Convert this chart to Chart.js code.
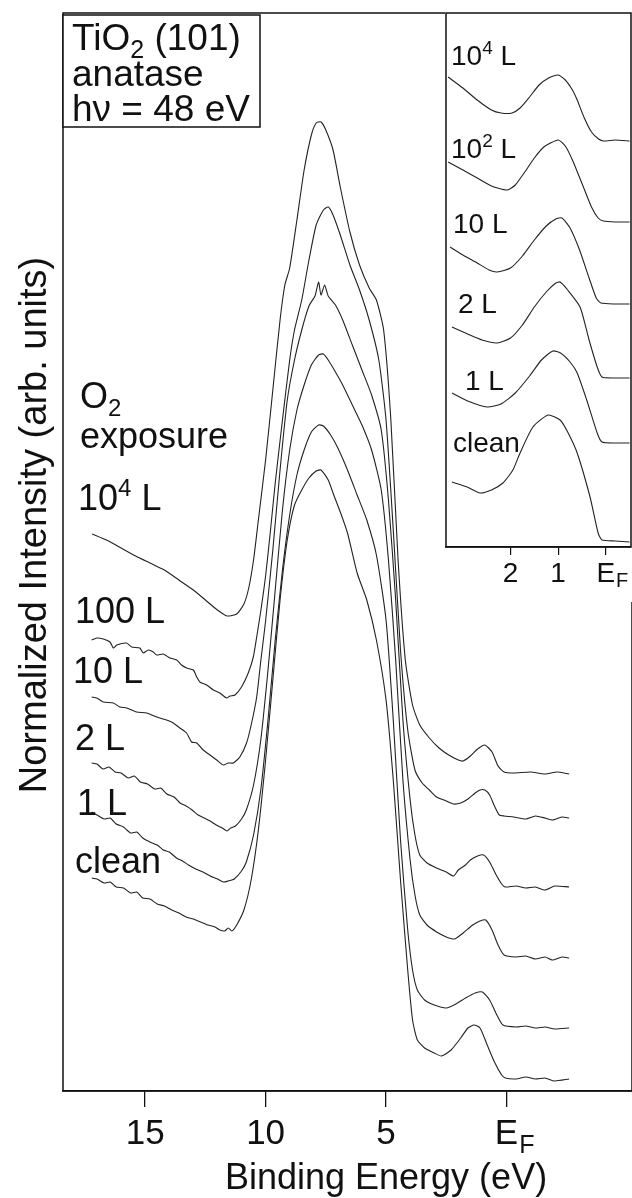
<!DOCTYPE html>
<html>
<head>
<meta charset="utf-8">
<script src="https://cdn.jsdelivr.net/npm/chart.js@4.4.1/dist/chart.umd.min.js"></script>
<style>
  html, body { margin: 0; padding: 0; background: #fff; }
  #wrap { position: relative; width: 632px; height: 1198px; overflow: hidden; }
  #main { position: absolute; left: 0; top: 0; }
  #inset { position: absolute; left: 445px; top: 12px; }
</style>
</head>
<body>
<div id="wrap">
  <canvas id="main" width="632" height="1198"></canvas>
  <canvas id="inset" width="187" height="590"></canvas>
</div>
<script>
// ---- data: [binding energy (eV), normalized intensity (arb. units)] ----
var mainTicks = [15, 10, 5, 0];
var mainTickText = ['15', '10', '5', 'E'];
var insetTicks = [2, 1, 0];
var insetTickText = ['2', '1', 'E'];

var main1e4 = [[17.2,557],[16.6,551],[16.0,543],[15.4,535],[14.8,528],[14.2,521],[13.6,511],[13.0,501],[12.5,491],[12.0,481],[11.6,475],[11.2,477],[10.9,487],[10.7,503],[10.5,531],[10.3,571],[10.0,631],[9.7,701],[9.4,771],[9.2,806],[9.0,823],[8.7,871],[8.4,921],[8.1,956],[7.9,968],[7.7,969],[7.5,961],[7.2,941],[6.9,904],[6.5,859],[6.1,826],[5.7,803],[5.4,791],[5.1,761],[4.8,671],[4.5,531],[4.2,431],[3.9,386],[3.6,366],[3.2,353],[2.8,343],[2.4,336],[2.0,331],[1.8,330],[1.5,335],[1.2,342],[0.9,346],[0.6,339],[0.35,325],[0.1,319],[-0.3,318],[-1.0,319],[-1.6,317],[-2.1,319],[-2.6,317]];
var main100 = [[17.22,451],[17.01,453],[16.74,452],[16.46,449],[16.32,443],[16.18,446],[15.77,448],[15.56,444],[15.22,443],[15.08,438],[14.87,441],[14.66,439],[14.52,436],[14.25,437],[13.97,433],[13.69,431],[13.49,426],[13.28,423],[13.0,421],[12.86,414],[12.73,409],[12.45,406],[12.17,401],[11.9,398],[11.62,393],[11.48,395],[11.27,396],[11.0,404],[10.72,418],[10.51,434],[10.37,454],[10.2,480],[10.0,515],[9.8,560],[9.6,608],[9.3,671],[9.0,731],[8.8,761],[8.5,791],[8.2,831],[7.9,866],[7.6,881],[7.4,884],[7.2,876],[6.9,856],[6.5,826],[6.1,801],[5.7,771],[5.3,731],[5.0,671],[4.7,561],[4.4,441],[4.1,361],[3.8,321],[3.5,308],[3.2,301],[2.9,294],[2.5,290],[2.2,287],[1.9,288],[1.6,292],[1.3,298],[1.1,301],[0.9,301],[0.7,296],[0.5,285],[0.3,276],[0.1,275],[-0.3,274],[-0.8,272],[-1.2,275],[-1.6,273],[-1.9,271],[-2.3,274],[-2.6,273]];
var main10 = [[17.22,394],[17.01,393],[16.74,389],[16.32,388],[16.05,384],[15.77,383],[15.36,379],[14.94,378],[14.52,374],[14.11,371],[13.83,368],[13.56,363],[13.28,358],[13.07,349],[12.86,348],[12.59,341],[12.31,336],[12.03,331],[11.76,326],[11.55,328],[11.34,328],[11.07,334],[10.79,348],[10.58,368],[10.37,394],[10.2,430],[10.0,470],[9.7,541],[9.4,621],[9.1,691],[8.8,731],[8.5,761],[8.2,785],[7.95,795],[7.8,809],[7.7,796],[7.55,806],[7.4,795],[7.1,786],[6.8,771],[6.4,746],[6.0,721],[5.6,696],[5.2,661],[4.9,591],[4.6,491],[4.3,371],[4.0,291],[3.8,256],[3.6,236],[3.3,228],[2.9,223],[2.5,219],[2.2,215],[2.0,221],[1.7,226],[1.5,231],[1.2,235],[0.95,236],[0.7,229],[0.45,217],[0.2,207],[0.05,204],[-0.4,205],[-0.8,203],[-1.2,204],[-1.6,201],[-2.0,205],[-2.6,204]];
var main2 = [[17.22,328],[17.0,327],[16.75,322],[16.5,324],[16.25,319],[16.0,318],[15.7,313],[15.45,315],[15.2,309],[14.9,307],[14.6,302],[14.35,303],[14.1,297],[13.8,294],[13.55,288],[13.3,285],[13.05,281],[12.8,276],[12.55,273],[12.3,270],[12.05,266],[11.8,263],[11.6,260],[11.45,263],[11.25,265],[11.0,272],[10.8,281],[10.5,306],[10.2,351],[9.9,421],[9.6,501],[9.3,581],[9.0,641],[8.7,681],[8.4,706],[8.1,726],[7.8,736],[7.6,737],[7.4,731],[7.1,719],[6.8,706],[6.4,686],[6.0,666],[5.6,641],[5.2,601],[4.9,531],[4.6,431],[4.3,311],[4.0,231],[3.8,196],[3.6,176],[3.3,166],[2.9,159],[2.5,154],[2.15,152],[1.8,158],[1.4,166],[1.1,170],[0.86,171],[0.6,161],[0.35,146],[0.1,136],[-0.4,134],[-0.8,135],[-1.2,132],[-1.6,134],[-1.9,131],[-2.3,134],[-2.6,133]];
var main1 = [[17.22,279],[17.0,276],[16.7,272],[16.45,273],[16.2,267],[15.9,264],[15.6,258],[15.35,259],[15.1,253],[14.8,249],[14.5,246],[14.25,241],[14.0,239],[13.7,233],[13.45,230],[13.2,226],[12.9,222],[12.6,219],[12.3,215],[12.0,212],[11.75,209],[11.55,210],[11.3,212],[11.0,220],[10.8,229],[10.5,256],[10.2,301],[9.9,371],[9.6,451],[9.3,521],[9.0,576],[8.7,616],[8.4,641],[8.1,659],[7.8,666],[7.6,665],[7.3,656],[7.0,643],[6.6,621],[6.2,596],[5.8,571],[5.4,536],[5.0,471],[4.7,371],[4.4,251],[4.1,161],[3.9,121],[3.7,101],[3.4,91],[3.0,86],[2.5,83],[2.1,87],[1.7,93],[1.3,98],[1.0,99],[0.7,91],[0.4,76],[0.15,66],[-0.4,64],[-0.8,65],[-1.2,63],[-1.6,64],[-2.0,62],[-2.6,63]];
var mainClean = [[17.22,213],[17.0,212],[16.7,208],[16.45,209],[16.2,204],[15.9,203],[15.6,198],[15.35,199],[15.1,193],[14.8,192],[14.5,187],[14.2,185],[13.9,181],[13.6,178],[13.3,174],[13.0,172],[12.7,169],[12.4,166],[12.1,164],[11.9,161],[11.7,160],[11.55,163],[11.4,160],[11.2,166],[10.9,181],[10.6,211],[10.3,261],[10.0,331],[9.7,411],[9.4,491],[9.1,551],[8.8,586],[8.5,601],[8.2,613],[7.9,620],[7.7,621],[7.4,611],[7.2,598],[6.9,579],[6.6,558],[6.2,518],[5.8,491],[5.4,451],[5.0,391],[4.7,311],[4.4,211],[4.1,121],[3.9,71],[3.7,51],[3.4,43],[3.0,38],[2.7,35],[2.3,41],[1.9,53],[1.6,63],[1.35,66],[1.1,63],[0.8,46],[0.5,29],[0.2,16],[0.05,13],[-0.4,12],[-0.8,14],[-1.2,12],[-1.6,13],[-2.0,10],[-2.6,12]];

var inset1e4 = [[3.31,470],[3.0,459],[2.7,447],[2.4,437],[2.2,434],[1.97,434],[1.8,439],[1.6,450],[1.4,462],[1.2,469],[1.0,472],[0.85,467],[0.7,457],[0.6,447],[0.45,429],[0.3,415],[0.15,408],[0.05,406],[-0.2,407],[-0.5,406]];
var inset1e2 = [[3.31,385],[3.0,377],[2.7,369],[2.4,361],[2.07,357],[1.9,362],[1.7,375],[1.5,389],[1.3,400],[1.0,407],[0.85,401],[0.7,387],[0.47,360],[0.3,340],[0.16,329],[0.05,326],[-0.2,325],[-0.5,325]];
var inset10 = [[3.27,300],[3.0,292],[2.7,284],[2.45,277],[2.28,275],[2.0,279],[1.75,291],[1.5,307],[1.25,321],[1.05,328],[0.92,329],[0.75,319],[0.55,297],[0.35,269],[0.2,249],[0.1,244],[-0.2,243],[-0.5,243]];
var inset2 = [[3.23,220],[2.9,213],[2.6,207],[2.28,204],[2.0,209],[1.75,222],[1.5,240],[1.25,255],[1.05,264],[0.96,265],[0.8,257],[0.54,240],[0.35,207],[0.18,180],[0.08,170],[-0.2,169],[-0.5,169]];
var inset1 = [[3.23,154],[2.9,146],[2.49,140],[2.2,143],[1.9,154],[1.6,171],[1.35,187],[1.11,196],[0.95,194],[0.75,185],[0.6,174],[0.4,147],[0.18,114],[0.08,105],[-0.2,104],[-0.5,104]];
var insetClean = [[3.23,65],[2.91,60],[2.64,54],[2.4,57],[2.16,64],[1.95,77],[1.8,94],[1.53,120],[1.21,132],[0.96,127],[0.8,115],[0.6,94],[0.33,50],[0.16,14],[0.08,7],[-0.2,6],[-0.5,5]];

var mainSeries = [main1e4, main100, main10, main2, main1, mainClean];
var insetSeries = [inset1e4, inset1e2, inset10, inset2, inset1, insetClean];

var FONT = '"Liberation Sans", Arial, Helvetica, sans-serif';
var INK = '#111';

function toDataset(pts) {
  return {
    data: pts.map(function (p) { return { x: p[0], y: p[1] }; }),
    borderColor: '#222',
    borderWidth: 1.1,
    pointRadius: 0,
    tension: 0.2,
    fill: false
  };
}

// text with super (1) / subscript (-1) pieces
function drawRich(ctx, parts, x, y, size) {
  parts.forEach(function (p) {
    var s = p[1] === 0 ? size : Math.round(size * 0.68);
    var dy = p[1] === 1 ? -size * 0.38 : (p[1] === -1 ? size * 0.22 : 0);
    ctx.font = s + 'px ' + FONT;
    ctx.fillText(p[0], x, y + dy);
    x += ctx.measureText(p[0]).width;
  });
}

var framePlugin = {
  id: 'frame',
  beforeDraw: function (chart) {
    var c = chart.ctx;
    c.save();
    c.fillStyle = '#fff';
    c.fillRect(0, 0, chart.width, chart.height);
    c.restore();
  },
  afterDraw: function (chart) {
    var a = chart.chartArea, c = chart.ctx;
    c.save();
    c.strokeStyle = INK;
    c.lineWidth = 1.5;
    c.strokeRect(a.left, a.top, a.right - a.left, a.bottom - a.top);
    c.restore();
  }
};

var mainText = {
  id: 'mainText',
  afterDraw: function (chart) {
    var c = chart.ctx, xs = chart.scales.x;
    c.save();
    c.fillStyle = INK;
    c.textBaseline = 'alphabetic';
    c.textAlign = 'left';

    // sample box
    c.fillStyle = '#fff';
    c.fillRect(63, 15, 197, 112);
    c.strokeStyle = INK;
    c.lineWidth = 1.5;
    c.strokeRect(63, 15, 197, 112);
    c.fillStyle = INK;
    drawRich(c, [['TiO', 0], ['2', -1], [' (101)', 0]], 72, 50, 37);
    drawRich(c, [['anatase', 0]], 72, 86, 37);
    drawRich(c, [['h\u03bd = 48 eV', 0]], 72, 121, 37);

    // exposure labels
    drawRich(c, [['O', 0], ['2', -1]], 80, 408, 36);
    drawRich(c, [['exposure', 0]], 80, 448, 36);
    drawRich(c, [['10', 0], ['4', 1], [' L', 0]], 78, 510, 36);
    drawRich(c, [['100 L', 0]], 75, 623, 36);
    drawRich(c, [['10 L', 0]], 73, 683, 36);
    drawRich(c, [['2 L', 0]], 75, 750, 36);
    drawRich(c, [['1 L', 0]], 77, 815, 36);
    drawRich(c, [['clean', 0]], 75, 873, 36);

    // subscript F of E_F
    var x0 = xs.getPixelForValue(0);
    c.font = '35px ' + FONT;
    var w = c.measureText('E').width;
    drawRich(c, [['F', 0]], x0 + w / 2 + 1, 1153, 25);

    // axis titles
    c.font = '36px ' + FONT;
    c.textAlign = 'center';
    c.fillText('Binding Energy (eV)', xs.getPixelForValue(5), 1189);
    c.font = '38px ' + FONT;
    c.translate(46, 525);
    c.rotate(-Math.PI / 2);
    c.fillText('Normalized Intensity (arb. units)', 0, 0);
    c.restore();
  }
};

var insetText = {
  id: 'insetText',
  afterDraw: function (chart) {
    var c = chart.ctx, xs = chart.scales.x;
    var ox = 445, oy = 12; // canvas offset on page
    c.save();
    c.fillStyle = INK;
    c.textAlign = 'left';
    drawRich(c, [['10', 0], ['4', 1], [' L', 0]], 451 - ox, 65 - oy, 28);
    drawRich(c, [['10', 0], ['2', 1], [' L', 0]], 451 - ox, 158 - oy, 28);
    drawRich(c, [['10 L', 0]], 453 - ox, 233 - oy, 28);
    drawRich(c, [['2 L', 0]], 458 - ox, 313 - oy, 28);
    drawRich(c, [['1 L', 0]], 465 - ox, 390 - oy, 28);
    drawRich(c, [['clean', 0]], 453 - ox, 452 - oy, 28);
    var x0 = xs.getPixelForValue(0);
    c.font = '28px ' + FONT;
    var w = c.measureText('E').width;
    drawRich(c, [['F', 0]], x0 + w / 2 + 1, 587 - oy, 20);
    c.restore();
  }
};

var mainChart = new Chart(document.getElementById('main').getContext('2d'), {
  type: 'line',
  data: { datasets: mainSeries.map(toDataset) },
  options: {
    responsive: false,
    animation: false,
    events: [],
    layout: { padding: { left: 63, top: 13, right: 0, bottom: 0 } },
    plugins: { legend: { display: false }, tooltip: { enabled: false } },
    scales: {
      x: {
        type: 'linear',
        reverse: true,
        min: -5.21,
        max: 18.41,
        afterBuildTicks: function (s) { s.ticks = mainTicks.map(function (v) { return { value: v }; }); },
        afterFit: function (s) { s.height = 107; },
        grid: { drawOnChartArea: false, drawTicks: true, tickLength: 16, color: INK, lineWidth: 1.3 },
        border: { display: true, color: INK, width: 1.5 },
        ticks: {
          font: { family: FONT, size: 35 },
          color: INK,
          padding: 6,
          maxRotation: 0,
          autoSkip: false,
          callback: function (v) { return mainTickText[mainTicks.indexOf(v)]; }
        }
      },
      y: { display: false, min: 0, max: 1078 }
    }
  },
  plugins: [framePlugin, mainText]
});

var insetChart = new Chart(document.getElementById('inset').getContext('2d'), {
  type: 'line',
  data: { datasets: insetSeries.map(toDataset) },
  options: {
    responsive: false,
    animation: false,
    events: [],
    layout: { padding: { left: 1, top: 1, right: 1, bottom: 0 } },
    plugins: { legend: { display: false }, tooltip: { enabled: false } },
    scales: {
      x: {
        type: 'linear',
        reverse: true,
        min: -0.53,
        max: 3.355,
        afterBuildTicks: function (s) { s.ticks = insetTicks.map(function (v) { return { value: v }; }); },
        afterFit: function (s) { s.height = 55; },
        grid: { drawOnChartArea: false, drawTicks: true, tickLength: 8, color: INK, lineWidth: 1.2 },
        border: { display: true, color: INK, width: 1.5 },
        ticks: {
          font: { family: FONT, size: 28 },
          color: INK,
          padding: 2,
          maxRotation: 0,
          autoSkip: false,
          callback: function (v) { return insetTickText[insetTicks.indexOf(v)]; }
        }
      },
      y: { display: false, min: 0, max: 534 }
    }
  },
  plugins: [framePlugin, insetText]
});
</script>
</body>
</html>
